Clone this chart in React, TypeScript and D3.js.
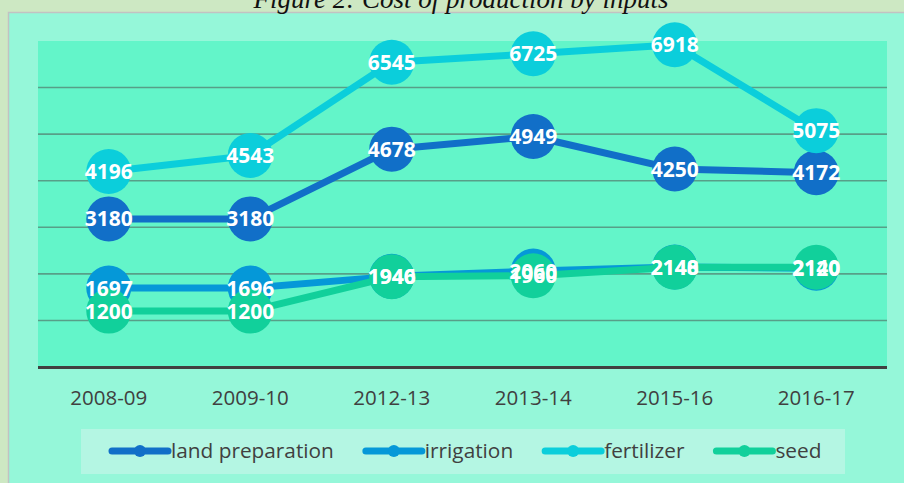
import React, { useEffect, useRef } from 'react';
import * as d3 from 'd3';

const years = ['2008-09', '2009-10', '2012-13', '2013-14', '2015-16', '2016-17'];
const landPreparation = [3180, 3180, 4678, 4949, 4250, 4172];
const irrigation = [1697, 1696, 1946, 2060, 2148, 2120];
const fertilizer = [4196, 4543, 6545, 6725, 6918, 5075];
const seed = [1200, 1200, 1940, 1960, 2140, 2140];
const yTicks = [1000, 2000, 3000, 4000, 5000, 6000];

const seriesList = [
  { name: 'land preparation', values: landPreparation, color: '#116fc8' },
  { name: 'irrigation', values: irrigation, color: '#0598d8' },
  { name: 'fertilizer', values: fertilizer, color: '#0bcedb' },
  { name: 'seed', values: seed, color: '#11d09b' },
];

const W = 904;
const H = 483;
const plot = { left: 38, right: 887, top: 41, bottom: 367 };
const font = '"Open Sans", "DejaVu Sans", sans-serif';

const Chart: React.FC = () => {
  const svgRef = useRef<SVGSVGElement>(null);

  useEffect(() => {
    if (!svgRef.current) return;
    const svg = d3.select(svgRef.current);
    svg.selectAll('*').remove();

    // page + frame
    svg.append('rect').attr('width', W).attr('height', H).attr('fill', '#cde8c3');
    svg.append('rect')
      .attr('x', 8.5).attr('y', 12.5)
      .attr('width', W).attr('height', H)
      .attr('fill', '#95f7d9')
      .attr('stroke', '#c2c2c2')
      .attr('stroke-width', 1.5);

    svg.append('text')
      .attr('x', 461).attr('y', 7.5)
      .attr('text-anchor', 'middle')
      .attr('font-family', '"Liberation Serif", "Times New Roman", serif')
      .attr('font-style', 'italic')
      .attr('font-size', 27)
      .attr('fill', '#111')
      .text('Figure 2: Cost of production by inputs');

    const x = d3.scalePoint<string>().domain(years).range([plot.left, plot.right]).padding(0.5);
    const y = d3.scaleLinear().domain([0, 7000]).range([plot.bottom, plot.top]);

    svg.append('rect')
      .attr('x', plot.left).attr('y', plot.top)
      .attr('width', plot.right - plot.left).attr('height', plot.bottom - plot.top)
      .attr('fill', '#63f5c9');

    // gridlines
    svg.append('g')
      .selectAll('line')
      .data(yTicks)
      .join('line')
      .attr('x1', plot.left).attr('x2', plot.right)
      .attr('y1', d => y(d)).attr('y2', d => y(d))
      .attr('stroke', '#579f88')
      .attr('stroke-width', 1.6);

    // x axis
    svg.append('line')
      .attr('x1', plot.left).attr('x2', plot.right)
      .attr('y1', y(0) + 0.5).attr('y2', y(0) + 0.5)
      .attr('stroke', '#404040')
      .attr('stroke-width', 3);

    svg.append('g')
      .selectAll('text')
      .data(years)
      .join('text')
      .attr('x', d => x(d)!)
      .attr('y', 405)
      .attr('text-anchor', 'middle')
      .attr('font-family', font)
      .attr('font-size', 20.5)
      .attr('fill', '#404040')
      .text(d => d);

    const line = d3.line<number>()
      .x((_, i) => x(years[i])!)
      .y(d => y(d));

    seriesList.forEach(s => {
      const g = svg.append('g');
      g.append('path')
        .datum(s.values)
        .attr('fill', 'none')
        .attr('stroke', s.color)
        .attr('stroke-width', 7)
        .attr('stroke-linejoin', 'round')
        .attr('d', line);
      g.selectAll('circle')
        .data(s.values)
        .join('circle')
        .attr('cx', (_, i) => x(years[i])!)
        .attr('cy', d => y(d))
        .attr('r', 22.5)
        .attr('fill', s.color);
    });

    // data labels on top of everything
    seriesList.forEach(s => {
      svg.append('g')
        .selectAll('text')
        .data(s.values)
        .join('text')
        .attr('x', (_, i) => x(years[i])!)
        .attr('y', d => y(d))
        .attr('dy', '0.36em')
        .attr('text-anchor', 'middle')
        .attr('font-family', font)
        .attr('font-weight', 700)
        .attr('font-size', 21)
        .attr('fill', '#ffffff')
        .text(d => d);
    });

    // legend
    svg.append('rect')
      .attr('x', 81).attr('y', 429)
      .attr('width', 764).attr('height', 45)
      .attr('fill', '#b4f6e3');

    const legend = svg.append('g');
    let cx = 112;
    const ly = 451;
    seriesList.forEach(s => {
      const item = legend.append('g').attr('transform', `translate(${cx},0)`);
      item.append('line')
        .attr('x1', 0).attr('x2', 56)
        .attr('y1', ly).attr('y2', ly)
        .attr('stroke', s.color)
        .attr('stroke-width', 7)
        .attr('stroke-linecap', 'round');
      item.append('circle')
        .attr('cx', 28).attr('cy', ly).attr('r', 6)
        .attr('fill', s.color);
      const t = item.append('text')
        .attr('x', 59).attr('y', 458)
        .attr('font-family', font)
        .attr('font-size', 20.8)
        .attr('fill', '#404040')
        .text(s.name);
      const tw = (t.node() as SVGTextElement).getComputedTextLength();
      cx += 59 + tw + 32;
    });
  }, []);

  return (
    <svg
      ref={svgRef}
      width={W}
      height={H}
      style={{ position: 'absolute', left: 0, top: 0, display: 'block' }}
    />
  );
};

export default function App() {
  return <Chart />;
}
